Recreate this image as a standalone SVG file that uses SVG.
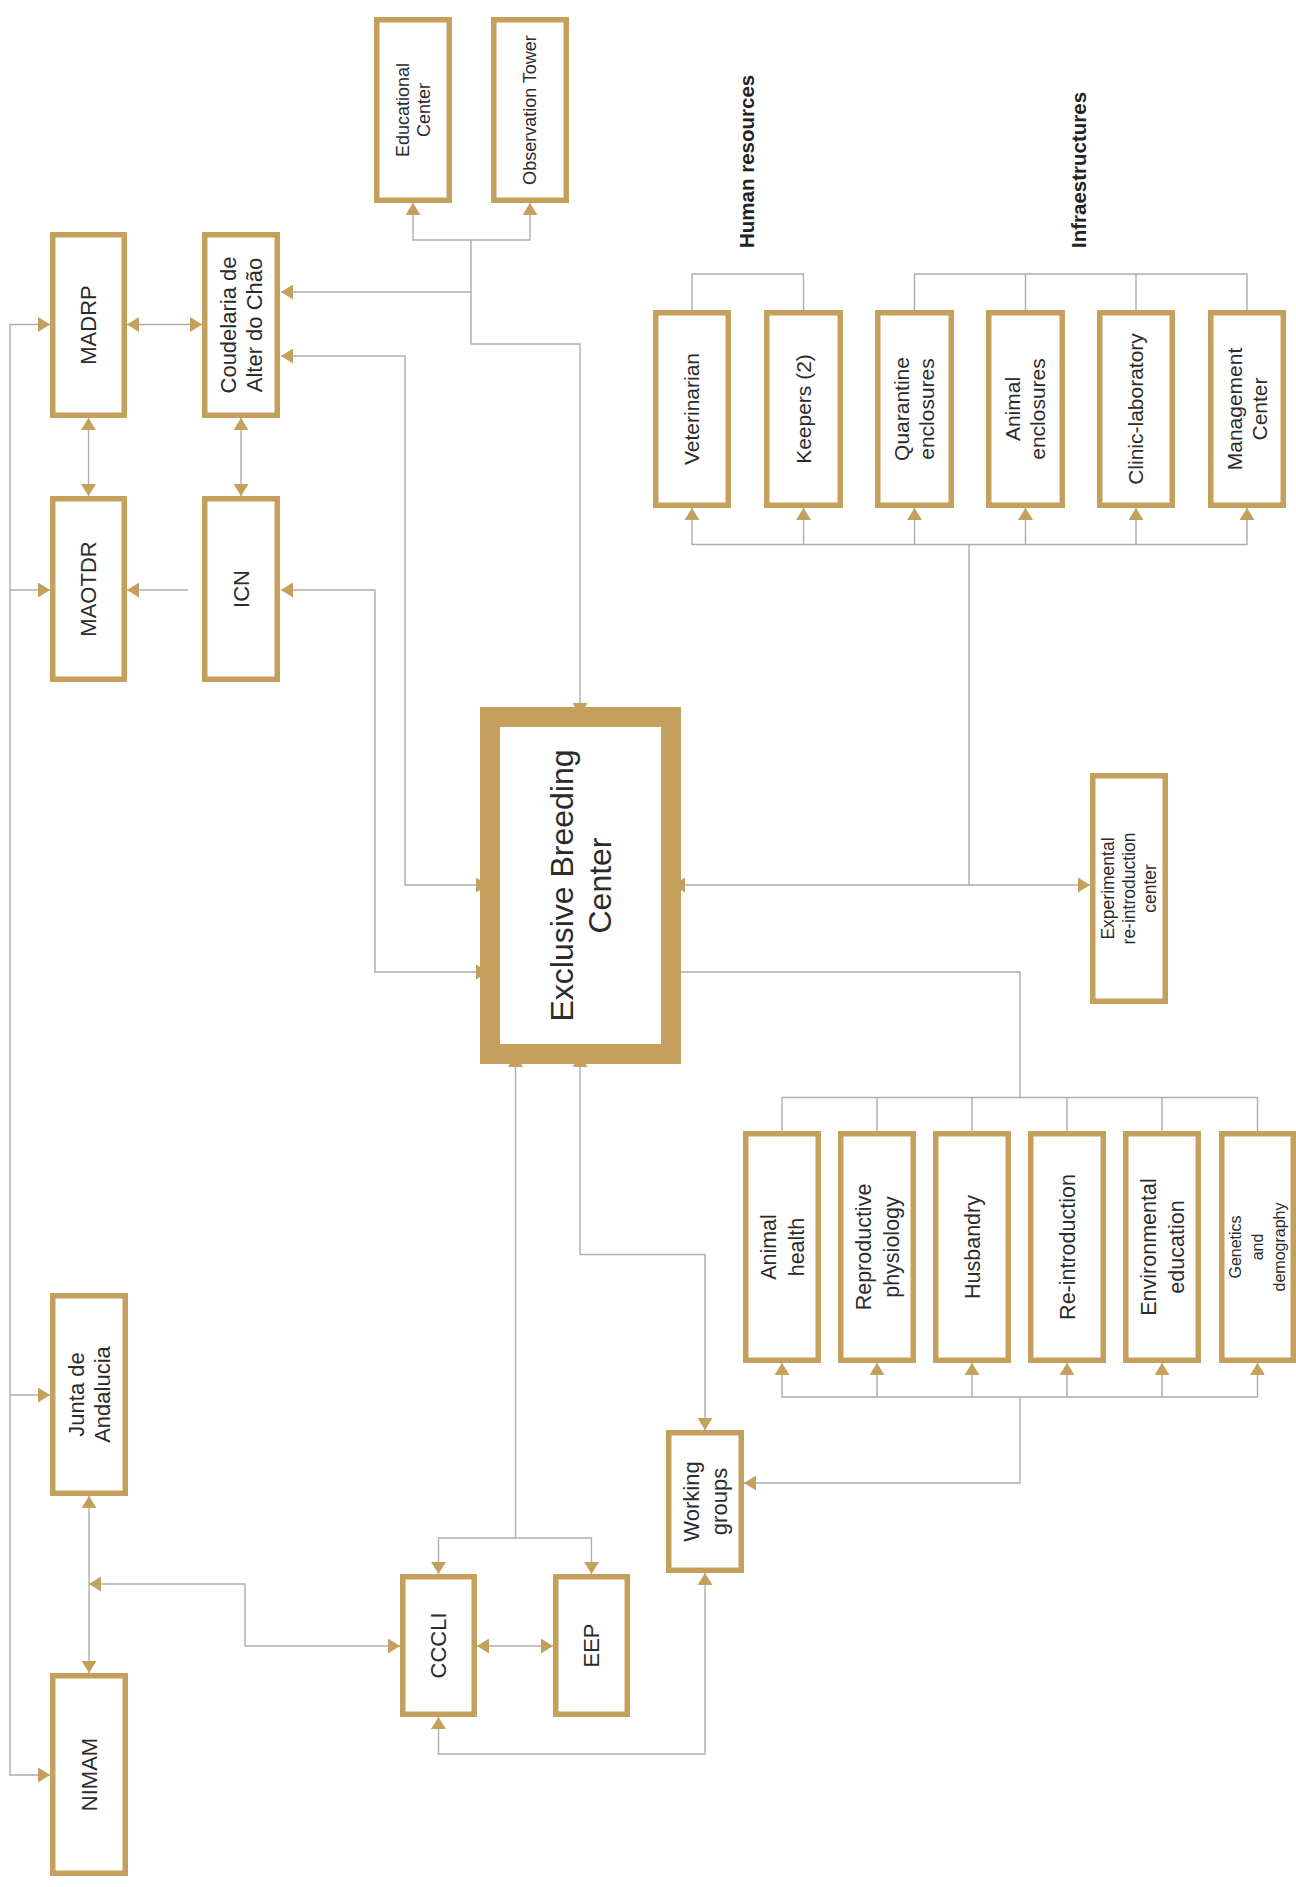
<svg xmlns="http://www.w3.org/2000/svg" width="1296" height="1887" viewBox="0 0 1296 1887">
<style>
.box{fill:#fff;stroke:#C4A05C;stroke-width:5.5}
.ebc{fill:#fff;stroke:#C4A05C;stroke-width:20}
.lbl{font-family:"Liberation Sans",Arial,sans-serif;font-size:22px;fill:#2b2b2b;text-anchor:middle}
.s21{font-size:21px}
.s215{font-size:21.5px}
.s18{font-size:18px}
.s175{font-size:17.5px}
.s16{font-size:16px}
.big{font-size:32px}
.hd{font-family:"Liberation Sans",Arial,sans-serif;font-size:20.5px;font-weight:bold;fill:#222}
.ln{fill:none;stroke:#adadad;stroke-width:1.4}
.a2{marker-start:url(#ah);marker-end:url(#ah)}
.a1{marker-end:url(#ah)}
.a0{marker-start:url(#ah)}
</style>
<defs>
<marker id="ah" markerUnits="userSpaceOnUse" markerWidth="12" markerHeight="15" viewBox="0 0 12 15" refX="12" refY="7.5" orient="auto-start-reverse">
<path d="M0,0 L12,7.5 L0,15 Z" fill="#C4A05C"/>
</marker>
</defs>
<rect width="1296" height="1887" fill="#fff"/>

<g id="connectors">
<path class="ln a2" d="M413,203 V240 H530 V203"/>
<path class="ln a1" d="M471,240 V344 H580 V715"/>
<path class="ln a1" d="M471,292 H281"/>
<path class="ln a2" d="M281,356 H405 V885 H488"/>
<path class="ln a2" d="M281,590 H375 V972 H488"/>
<path class="ln a1" d="M188,590 H127"/>
<path class="ln a2" d="M127,324.5 H202"/>
<path class="ln a2" d="M88.5,418 V496"/>
<path class="ln a2" d="M241,418 V496"/>
<path class="ln a2" d="M50,324.5 H10 V1775 H50"/>
<path class="ln a1" d="M10,590 H50"/>
<path class="ln a1" d="M10,1395 H50"/>
<path class="ln a2" d="M89,1496 V1673"/>
<path class="ln a2" d="M89,1584 H245 V1646 H400"/>
<path class="ln a2" d="M477,1646 H553"/>
<path class="ln a0" d="M515.5,1055 V1538"/>
<path class="ln a2" d="M438.5,1574 V1538 H591.5 V1574"/>
<path class="ln a2" d="M580,1055 V1254.5 H705 V1430"/>
<path class="ln a2" d="M438.5,1717 V1754 H705 V1573"/>
<path class="ln a2" d="M673,885 H1090"/>
<path class="ln" d="M969,885 V544.5"/>
<path class="ln a2" d="M692,508 V544.5 H1247 V508"/>
<path class="ln a1" d="M803.5,544.5 V508"/>
<path class="ln a1" d="M914.5,544.5 V508"/>
<path class="ln a1" d="M1025.5,544.5 V508"/>
<path class="ln a1" d="M1136,544.5 V508"/>
<path class="ln" d="M692,310 V274 H803.5 V310"/>
<path class="ln" d="M914.5,310 V274 H1247 V310 M1025.5,274 V310 M1136,274 V310"/>
<path class="ln" d="M673,972 H1020 V1097.5"/>
<path class="ln" d="M782,1131 V1097.5 H1257.5 V1131 M877,1097.5 V1131 M972,1097.5 V1131 M1067,1097.5 V1131 M1162,1097.5 V1131"/>
<path class="ln a2" d="M782,1363 V1397 H1257.5 V1363"/>
<path class="ln a1" d="M877,1397 V1363"/>
<path class="ln a1" d="M972,1397 V1363"/>
<path class="ln a1" d="M1067,1397 V1363"/>
<path class="ln a1" d="M1162,1397 V1363"/>
<path class="ln a1" d="M1020,1397 V1483 H744"/>
</g>

<g id="educational-center">
<rect class="box" x="376.75" y="19.75" width="72.5" height="180.5"/>
<text class="lbl s18" transform="translate(413,110) rotate(-90)"><tspan x="0" y="-4.2">Educational</tspan><tspan x="0" y="16.8">Center</tspan></text>
</g>
<g id="observation-tower">
<rect class="box" x="493.75" y="19.75" width="72.5" height="180.5"/>
<text class="lbl s18" transform="translate(530,110) rotate(-90)"><tspan x="0" y="6.3">Observation Tower</tspan></text>
</g>
<g id="madrp">
<rect class="box" x="52.75" y="234.75" width="71.5" height="180.5"/>
<text class="lbl" transform="translate(88.5,325) rotate(-90)"><tspan x="0" y="7.7">MADRP</tspan></text>
</g>
<g id="coudelaria">
<rect class="box" x="204.75" y="234.75" width="72.5" height="180.5"/>
<text class="lbl" transform="translate(241,325) rotate(-90)"><tspan x="0" y="-5.3">Coudelaria de</tspan><tspan x="0" y="20.7">Alter do Chão</tspan></text>
</g>
<g id="maotdr">
<rect class="box" x="52.75" y="498.75" width="71.5" height="180.5"/>
<text class="lbl" transform="translate(88.5,589) rotate(-90)"><tspan x="0" y="7.7">MAOTDR</tspan></text>
</g>
<g id="icn">
<rect class="box" x="204.75" y="498.75" width="72.5" height="180.5"/>
<text class="lbl" transform="translate(241,589) rotate(-90)"><tspan x="0" y="7.7">ICN</tspan></text>
</g>
<g id="exclusive-breeding-center">
<rect class="ebc" x="490" y="717" width="181" height="337"/>
<text class="lbl big" transform="translate(580.5,885.5) rotate(-90)"><tspan x="0" y="-7.8">Exclusive Breeding</tspan><tspan x="0" y="30.2">Center</tspan></text>
</g>
<g id="human-resources-label">
<text class="hd" transform="translate(754,248) rotate(-90)">Human resources</text>
</g>
<g id="infraestructures-label">
<text class="hd" transform="translate(1086,248) rotate(-90)">Infraestructures</text>
</g>
<g id="veterinarian">
<rect class="box" x="655.75" y="312.75" width="72.5" height="192.5"/>
<text class="lbl s21" transform="translate(692,409) rotate(-90)"><tspan x="0" y="7.35">Veterinarian</tspan></text>
</g>
<g id="keepers">
<rect class="box" x="766.75" y="312.75" width="73.5" height="192.5"/>
<text class="lbl s21" transform="translate(803.5,409) rotate(-90)"><tspan x="0" y="7.35">Keepers (2)</tspan></text>
</g>
<g id="quarantine-enclosures">
<rect class="box" x="877.75" y="312.75" width="73.5" height="192.5"/>
<text class="lbl s21" transform="translate(914.5,409) rotate(-90)"><tspan x="0" y="-5.15">Quarantine</tspan><tspan x="0" y="19.85">enclosures</tspan></text>
</g>
<g id="animal-enclosures">
<rect class="box" x="988.75" y="312.75" width="73.5" height="192.5"/>
<text class="lbl s21" transform="translate(1025.5,409) rotate(-90)"><tspan x="0" y="-5.15">Animal</tspan><tspan x="0" y="19.85">enclosures</tspan></text>
</g>
<g id="clinic-laboratory">
<rect class="box" x="1099.75" y="312.75" width="72.5" height="192.5"/>
<text class="lbl s21" transform="translate(1136,409) rotate(-90)"><tspan x="0" y="7.35">Clinic-laboratory</tspan></text>
</g>
<g id="management-center">
<rect class="box" x="1210.75" y="312.75" width="72.5" height="192.5"/>
<text class="lbl s21" transform="translate(1247,409) rotate(-90)"><tspan x="0" y="-5.15">Management</tspan><tspan x="0" y="19.85">Center</tspan></text>
</g>
<g id="experimental-reintroduction-center">
<rect class="box" x="1092.75" y="775.75" width="72.5" height="225.5"/>
<text class="lbl s175" transform="translate(1129,888.5) rotate(-90)"><tspan x="0" y="-14.9">Experimental</tspan><tspan x="0" y="6.1">re-introduction</tspan><tspan x="0" y="27.1">center</tspan></text>
</g>
<g id="animal-health">
<rect class="box" x="745.75" y="1133.75" width="72.5" height="226.5"/>
<text class="lbl s215" transform="translate(782,1247) rotate(-90)"><tspan x="0" y="-6.5">Animal</tspan><tspan x="0" y="21.5">health</tspan></text>
</g>
<g id="reproductive-physiology">
<rect class="box" x="840.75" y="1133.75" width="72.5" height="226.5"/>
<text class="lbl s215" transform="translate(877,1247) rotate(-90)"><tspan x="0" y="-6.5">Reproductive</tspan><tspan x="0" y="21.5">physiology</tspan></text>
</g>
<g id="husbandry">
<rect class="box" x="935.75" y="1133.75" width="72.5" height="226.5"/>
<text class="lbl s215" transform="translate(972,1247) rotate(-90)"><tspan x="0" y="7.5">Husbandry</tspan></text>
</g>
<g id="re-introduction">
<rect class="box" x="1030.75" y="1133.75" width="72.5" height="226.5"/>
<text class="lbl s215" transform="translate(1067,1247) rotate(-90)"><tspan x="0" y="7.5">Re-introduction</tspan></text>
</g>
<g id="environmental-education">
<rect class="box" x="1125.75" y="1133.75" width="72.5" height="226.5"/>
<text class="lbl s215" transform="translate(1162,1247) rotate(-90)"><tspan x="0" y="-6.5">Environmental</tspan><tspan x="0" y="21.5">education</tspan></text>
</g>
<g id="genetics-and-demography">
<rect class="box" x="1221.75" y="1133.75" width="71.5" height="226.5"/>
<text class="lbl s16" transform="translate(1257.5,1247) rotate(-90)"><tspan x="0" y="-16.4">Genetics</tspan><tspan x="0" y="5.6">and</tspan><tspan x="0" y="27.6">demography</tspan></text>
</g>
<g id="working-groups">
<rect class="box" x="668.75" y="1432.75" width="72.5" height="137.5"/>
<text class="lbl" transform="translate(705,1501.5) rotate(-90)"><tspan x="0" y="-6.3">Working</tspan><tspan x="0" y="21.7">groups</tspan></text>
</g>
<g id="junta-de-andalucia">
<rect class="box" x="52.75" y="1295.75" width="72.5" height="197.5"/>
<text class="lbl" transform="translate(89,1394.5) rotate(-90)"><tspan x="0" y="-5.3">Junta de</tspan><tspan x="0" y="20.7">Andalucia</tspan></text>
</g>
<g id="nimam">
<rect class="box" x="52.75" y="1675.75" width="72.5" height="197.5"/>
<text class="lbl" transform="translate(89,1774.5) rotate(-90)"><tspan x="0" y="7.7">NIMAM</tspan></text>
</g>
<g id="cccli">
<rect class="box" x="402.75" y="1576.75" width="71.5" height="137.5"/>
<text class="lbl" transform="translate(438.5,1645.5) rotate(-90)"><tspan x="0" y="7.7">CCCLI</tspan></text>
</g>
<g id="eep">
<rect class="box" x="555.75" y="1576.75" width="71.5" height="137.5"/>
<text class="lbl" transform="translate(591.5,1645.5) rotate(-90)"><tspan x="0" y="7.7">EEP</tspan></text>
</g>
</svg>
